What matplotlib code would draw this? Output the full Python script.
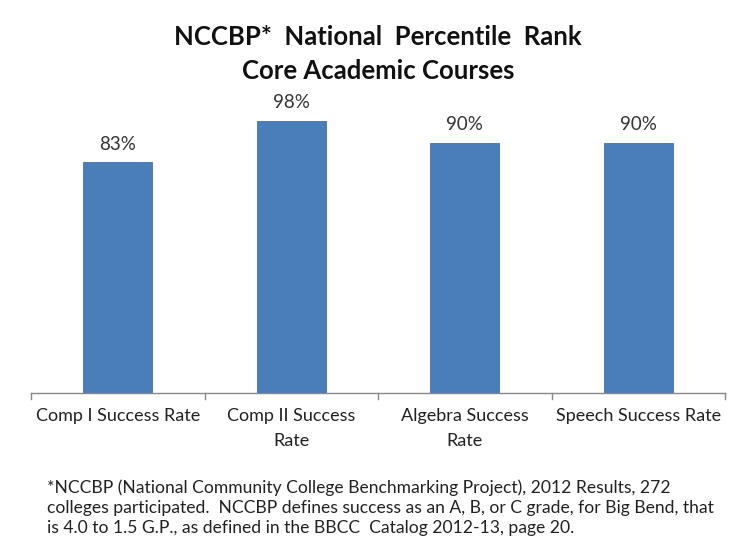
import matplotlib
matplotlib.use("Agg")
import matplotlib.pyplot as plt

categories = ["Comp I Success Rate", "Comp II Success\nRate", "Algebra Success\nRate", "Speech Success Rate"]
values = [83, 98, 90, 90]
value_labels = ["83%", "98%", "90%", "90%"]
title_lines = "NCCBP*  National  Percentile  Rank\nCore Academic Courses"
footnote = ("*NCCBP (National Community College Benchmarking Project), 2012 Results, 272\n"
            "colleges participated.  NCCBP defines success as an A, B, or C grade, for Big Bend, that\n"
            "is 4.0 to 1.5 G.P., as defined in the BBCC  Catalog 2012-13, page 20.")

plt.rcParams['font.family'] = ['Lato', 'DejaVu Sans']

fig = plt.figure(figsize=(7.35, 5.5), dpi=100)
ax = fig.add_axes([31/735, 157/550, 694/735, 278/550])

x = range(len(categories))
bars = ax.bar(x, values, width=0.4, color="#4A7EBB", edgecolor="#3F72B0", linewidth=0.6)
for xi, v, lab in zip(x, values, value_labels):
    ax.text(xi, v + 6.5, lab, ha="center", va="center", fontsize=13.5, color="#333333")

ax.set_xlim(-0.5, len(categories) - 0.5)
ax.set_ylim(0, 100)
ax.set_yticks([])
ax.set_xticks(list(x))
ax.set_xticklabels(categories, fontsize=13, color="#222222", linespacing=1.65)
ax.tick_params(axis="x", length=0, pad=11)
# category boundary ticks
for b in [i - 0.5 for i in range(len(categories) + 1)]:
    ax.plot([b, b], [0, -2], color="#888888", lw=1, clip_on=False)
for s in ["top", "right", "left"]:
    ax.spines[s].set_visible(False)
ax.spines["bottom"].set_color("#888888")
ax.spines["bottom"].set_linewidth(1)

fig.text(378/735, 1 - 54/550, title_lines, ha="center", va="center", fontsize=18.5,
         fontweight="bold", color="#111111", linespacing=1.5)
fig.text(47/735, 1 - 508/550, footnote, ha="left", va="center", fontsize=12.6,
         color="#222222", linespacing=1.3)

fig.savefig("out.png", dpi=100)
